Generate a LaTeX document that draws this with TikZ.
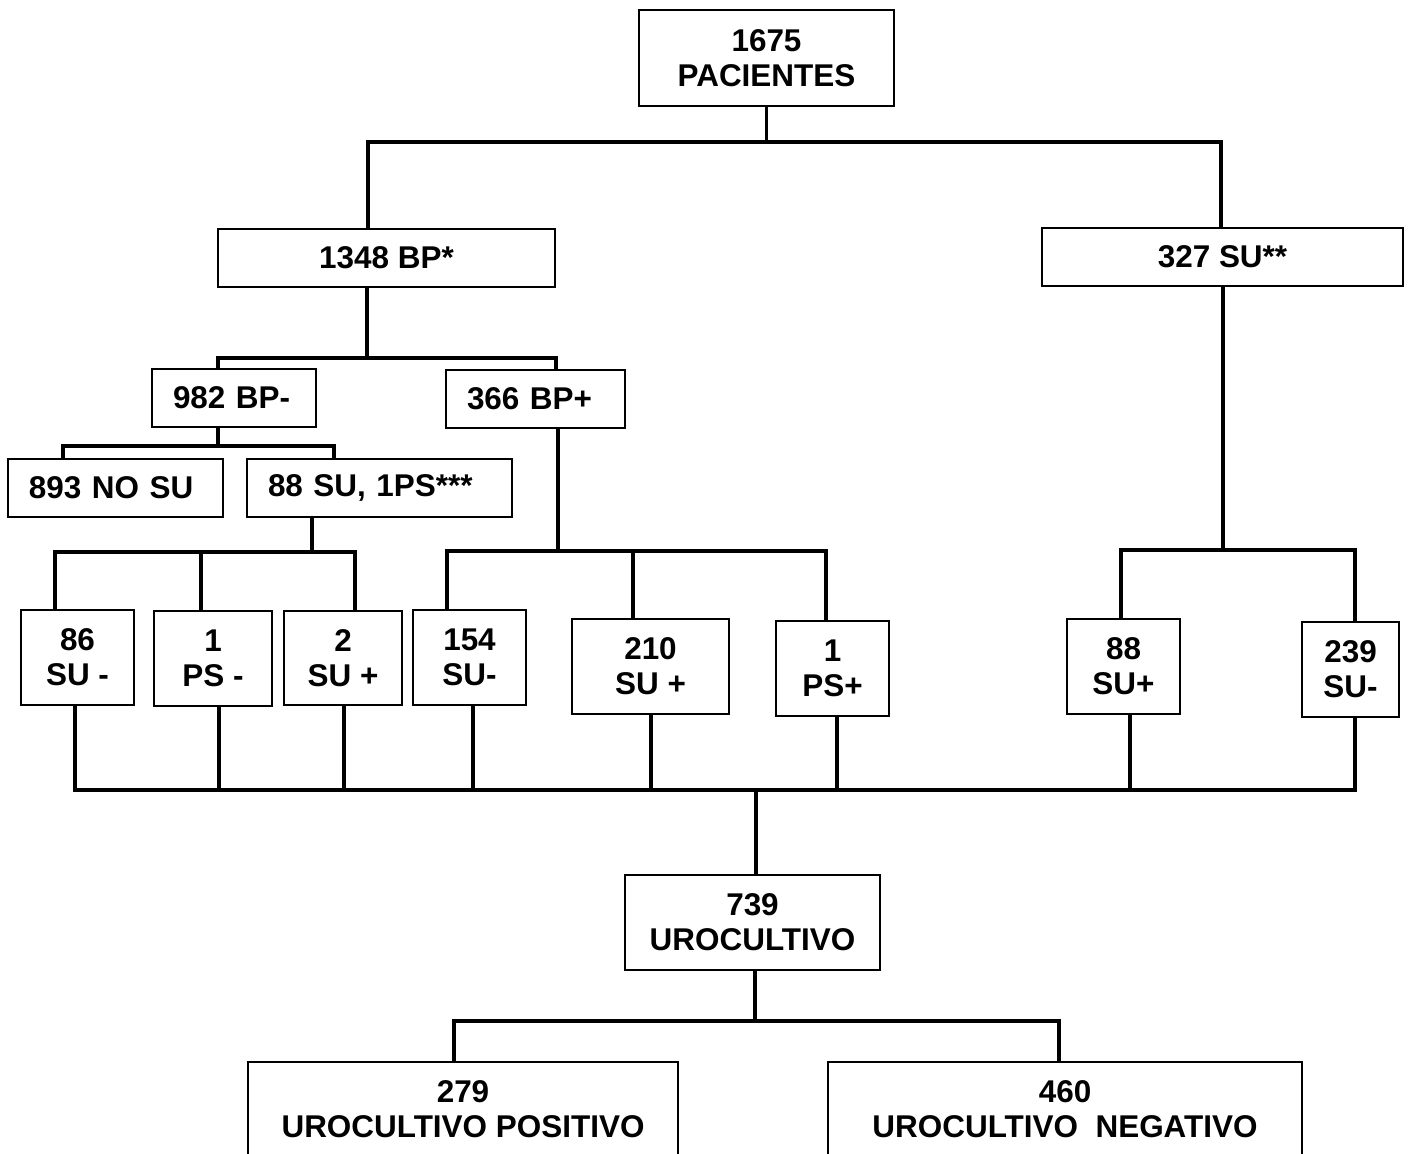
\documentclass[tikz,border=0pt]{standalone}
\usepackage{fontspec}
\setmainfont{Liberation Sans}

\tikzset{
  box/.style={draw, line width=0.4mm, inner sep=0pt, align=center,
    font=\fontsize{17.9}{19.8}\selectfont\bfseries},
  lbox/.style={box, align=left, inner xsep=4.2mm, minimum height=11.6mm},
  link/.style={line width=0.75mm, line join=miter},
}

\begin{document}
\begin{tikzpicture}[x=0.2mm, y=-0.2mm]
\useasboundingbox (0,0) rectangle (1408,1153);

% boxes
\node[box, minimum width=51mm, minimum height=19.2mm] (pac) at (766.5,58) {1675\\PACIENTES};
\node[box, minimum width=67.4mm, minimum height=11.6mm] (bp) at (386.5,258) {1348 BP*};
\node[box, minimum width=72.2mm, minimum height=11.6mm] (su) at (1222.5,257) {327 SU**};
\node[lbox, text width=24.4mm] (bpn) at (234,398) {982 BP-};
\node[lbox, text width=27.4mm] (bpp) at (535.5,399) {366 BP+};
\node[lbox, text width=34.6mm] (nosu) at (115.5,487.5) {893 NO SU};
\node[lbox, text width=44.6mm] (su88) at (379.5,487.5) {88 SU, 1PS***};
\node[box, minimum width=22.6mm, minimum height=19mm] (sun86) at (77.5,657.5) {86\\SU -};
\node[box, minimum width=23.6mm, minimum height=19mm] (psn) at (213,658.5) {1\\PS -};
\node[box, minimum width=23.6mm, minimum height=18.8mm] (sup2) at (343,658) {2\\SU +};
\node[box, minimum width=22.6mm, minimum height=19mm] (sun154) at (469.5,657.5) {154\\SU-};
\node[box, minimum width=31.4mm, minimum height=19mm] (sup210) at (650.5,666.5) {210\\SU +};
\node[box, minimum width=22.6mm, minimum height=19mm] (psp) at (832.5,668.5) {1\\PS+};
\node[box, minimum width=22.6mm, minimum height=19mm] (sup88) at (1123.5,666.5) {88\\SU+};
\node[box, minimum width=19.4mm, minimum height=19mm] (sun239) at (1350.5,669.5) {239\\SU-};
\node[box, minimum width=51mm, minimum height=19mm] (uro) at (752.5,922.5) {739\\UROCULTIVO};
\node[box, minimum width=86mm, minimum height=18.8mm] (pos) at (463,1109) {279\\UROCULTIVO POSITIVO};
\node[box, minimum width=94.8mm, minimum height=18.8mm] (neg) at (1065,1109) {460\\UROCULTIVO~~NEGATIVO};

% junctions
\coordinate (t0) at (766.5,142); \coordinate (tl) at (368,142); \coordinate (tr) at (1221,142);
\coordinate (p0) at (367,358); \coordinate (pl) at (218,358); \coordinate (pr) at (556,358);
\coordinate (n0) at (218,446); \coordinate (nl) at (63,446); \coordinate (nr) at (334,446);
\coordinate (s0) at (312,552); \coordinate (sl) at (55,552); \coordinate (sm) at (201,552); \coordinate (sr) at (355,552);
\coordinate (q0) at (558,551); \coordinate (ql) at (447,551); \coordinate (qm) at (633,551); \coordinate (qr) at (826,551);
\coordinate (r0) at (1223,550); \coordinate (rl) at (1121,550); \coordinate (rr) at (1355,550);
\coordinate (u0) at (756,790);
\coordinate (u1) at (75,790); \coordinate (u2) at (219,790); \coordinate (u3) at (344,790); \coordinate (u4) at (473,790);
\coordinate (u5) at (651,790); \coordinate (u6) at (837,790); \coordinate (u7) at (1130,790); \coordinate (u8) at (1355,790);
\coordinate (v0) at (755,1021); \coordinate (vl) at (454,1021); \coordinate (vr) at (1059,1021);

% connectors
\draw[link] (pac.south) -- (t0);
\draw[link] (bp.north -| tl) -- (tl) -- (tr) -- (su.north -| tr);
\draw[link] (bp.south -| p0) -- (p0);
\draw[link] (bpn.north -| pl) -- (pl) -- (pr) -- (bpp.north -| pr);
\draw[link] (bpn.south -| n0) -- (n0);
\draw[link] (nosu.north -| nl) -- (nl) -- (nr) -- (su88.north -| nr);
\draw[link] (su88.south -| s0) -- (s0);
\draw[link] (sun86.north -| sl) -- (sl) -- (sr) -- (sup2.north -| sr);
\draw[link] (psn.north -| sm) -- (sm);
\draw[link] (bpp.south -| q0) -- (q0);
\draw[link] (sun154.north -| ql) -- (ql) -- (qr) -- (psp.north -| qr);
\draw[link] (sup210.north -| qm) -- (qm);
\draw[link] (su.south -| r0) -- (r0);
\draw[link] (sup88.north -| rl) -- (rl) -- (rr) -- (sun239.north -| rr);
\draw[link] (sun86.south -| u1) -- (u1) -- (u8) -- (sun239.south -| u8);
\foreach \n/\c in {psn/u2, sup2/u3, sun154/u4, sup210/u5, psp/u6, sup88/u7}
  \draw[link] (\n.south -| \c) -- (\c);
\draw[link] (u0) -- (uro.north -| u0);
\draw[link] (uro.south -| v0) -- (v0);
\draw[link] (pos.north -| vl) -- (vl) -- (vr) -- (neg.north -| vr);
\end{tikzpicture}
\end{document}
